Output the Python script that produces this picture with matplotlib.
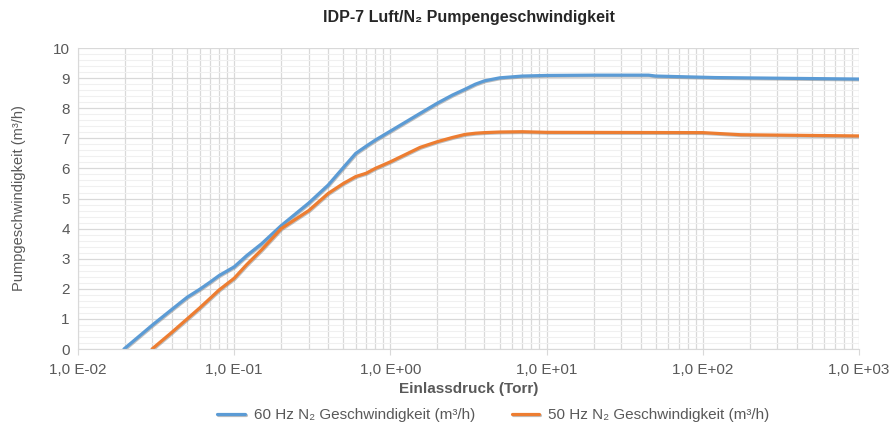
import math
import matplotlib
matplotlib.use("Agg")
import matplotlib.pyplot as plt
import matplotlib.patheffects as pe
from matplotlib.ticker import FixedLocator, LogLocator, NullFormatter, FuncFormatter

# pressure (Torr) and pumping speed (m3/h)
p_60hz = [0.0197, 0.03, 0.04, 0.05, 0.06, 0.07, 0.08, 0.1, 0.12, 0.15, 0.2, 0.3,
          0.4, 0.5, 0.6, 0.7, 0.8, 1.0, 1.55, 2.0, 2.5, 3.0, 3.5, 4.0, 5.0, 7.0, 10, 20,
          45, 50, 120, 1000]
s_60hz = [0, 0.8, 1.32, 1.72, 1.98, 2.22, 2.44, 2.73, 3.1, 3.5, 4.1, 4.85,
          5.45, 6.03, 6.5, 6.74, 6.94, 7.24, 7.83, 8.17, 8.44, 8.63, 8.8, 8.91, 9.01, 9.07, 9.09, 9.1,
          9.1, 9.07, 9.02, 8.97]

p_50hz = [0.0298, 0.04, 0.05, 0.06, 0.07, 0.08, 0.1, 0.12, 0.15, 0.2, 0.3, 0.4,
          0.5, 0.6, 0.7, 0.8, 1.0, 1.55, 2.0, 2.5, 3.0, 3.5, 4.0, 5.0, 7.0, 10, 100, 175, 1000]
s_50hz = [0, 0.56, 1.0, 1.36, 1.68, 1.96, 2.35, 2.8, 3.3, 4.0, 4.6, 5.17,
          5.5, 5.73, 5.84, 6.0, 6.22, 6.7, 6.89, 7.03, 7.13, 7.17, 7.19, 7.21, 7.22, 7.2, 7.19, 7.12, 7.08]

labels = ["60 Hz N\u2082 Geschwindigkeit (m\u00b3/h)",
          "50 Hz N\u2082 Geschwindigkeit (m\u00b3/h)"]
colors = ["#5B9BD5", "#ED7D31"]

plt.rcParams["font.family"] = ["Liberation Sans", "DejaVu Sans"]
grey = "#595959"

fig = plt.figure(figsize=(8.9, 4.45), dpi=100)
ax = fig.add_axes([0.0876, 0.2157, 0.8775, 0.6763])

shadow = [pe.SimpleLineShadow(offset=(0.6, -0.6), shadow_color="#808080", alpha=0.5), pe.Normal()]
for p, s, lab, c in [(p_60hz, s_60hz, labels[0], colors[0]), (p_50hz, s_50hz, labels[1], colors[1])]:
    ax.plot(p, s, color=c, lw=2.3, label=lab, path_effects=shadow,
            solid_capstyle="round", solid_joinstyle="round")

ax.set_xscale("log")
ax.set_xlim(1e-2, 1e3)
ax.set_ylim(0, 10)
ax.yaxis.set_major_locator(FixedLocator(range(0, 11)))
ax.yaxis.set_minor_locator(FixedLocator([i * 0.2 for i in range(51)]))
ax.xaxis.set_major_locator(LogLocator(base=10, numticks=10))
ax.xaxis.set_minor_locator(LogLocator(base=10, subs=range(2, 10), numticks=20))
ax.xaxis.set_minor_formatter(NullFormatter())


def fmt(x, pos):
    e = int(round(math.log10(x)))
    return "1,0 E%s%02d" % ("+" if e >= 0 else "-", abs(e))


ax.xaxis.set_major_formatter(FuncFormatter(fmt))

ax.grid(which="major", axis="both", color="#d9d9d9", lw=0.9)
ax.grid(which="minor", axis="x", color="#d9d9d9", lw=0.9)
ax.grid(which="minor", axis="y", color="#f0f0f0", lw=0.8)
ax.set_axisbelow(True)
for sp in ax.spines.values():
    sp.set_visible(False)
ax.spines["bottom"].set_visible(True)
ax.spines["bottom"].set_color("#d9d9d9")
ax.spines["left"].set_visible(True)
ax.spines["left"].set_color("#d9d9d9")

ax.tick_params(axis="both", which="both", labelsize=11, colors=grey)
ax.tick_params(axis="y", which="both", length=0, pad=6)
ax.tick_params(axis="x", which="major", length=4, color="#d9d9d9", pad=6)
ax.tick_params(axis="x", which="minor", length=0)

ax.set_xlabel("Einlassdruck (Torr)", fontsize=11, fontweight="bold", color=grey, labelpad=4)
ax.set_ylabel("Pumpgeschwindigkeit (m\u00b3/h)", fontsize=10.5, color=grey, labelpad=19)
ax.set_title("IDP-7 Luft/N\u2082 Pumpengeschwindigkeit", fontsize=11.5, fontweight="bold",
             color="#262626", pad=19)

ax.legend(loc="center", bbox_to_anchor=(0.532, -0.22), ncol=2, frameon=False,
          fontsize=11, labelcolor=grey, handlelength=1.8, columnspacing=2.4, handletextpad=0.6)

fig.savefig("out.png", dpi=100)
